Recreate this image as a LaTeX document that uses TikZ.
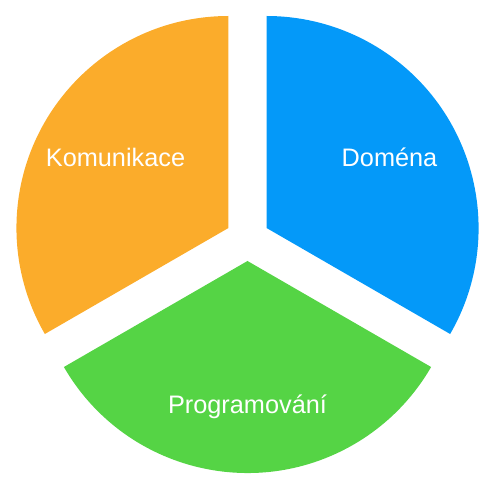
\documentclass[tikz,border=0pt]{standalone}
\usepackage{fontspec}
\setmainfont{Liberation Sans}
\definecolor{arancio}{RGB}{251,172,43}
\definecolor{azzurro}{RGB}{4,153,249}
\definecolor{verde}{RGB}{85,212,69}
\begin{document}
\begin{tikzpicture}[x=0.02cm, y=0.02cm,
  etichetta/.style={text=white, font=\fontsize{14.4}{17}\selectfont, anchor=base}]
\useasboundingbox (-247.5,-261) rectangle (252.5,239);
% spicchi
\fill[arancio, shift={(150:22)}] (0,0) -- (90:212) arc[start angle=90, end angle=210, radius=212] -- cycle;
\fill[azzurro, shift={(30:22)}] (0,0) -- (-30:212) arc[start angle=-30, end angle=90, radius=212] -- cycle;
\fill[verde, shift={(270:22)}] (0,0) -- (210:212) arc[start angle=210, end angle=330, radius=212] -- cycle;
% etichette
\node[etichetta] (komunikace) at (-132,72) {Komunikace};
\node[etichetta] (domena) at (142,72) {Doména};
\node[etichetta] (programovani) at (0,-174) {Programování};
\end{tikzpicture}
\end{document}
